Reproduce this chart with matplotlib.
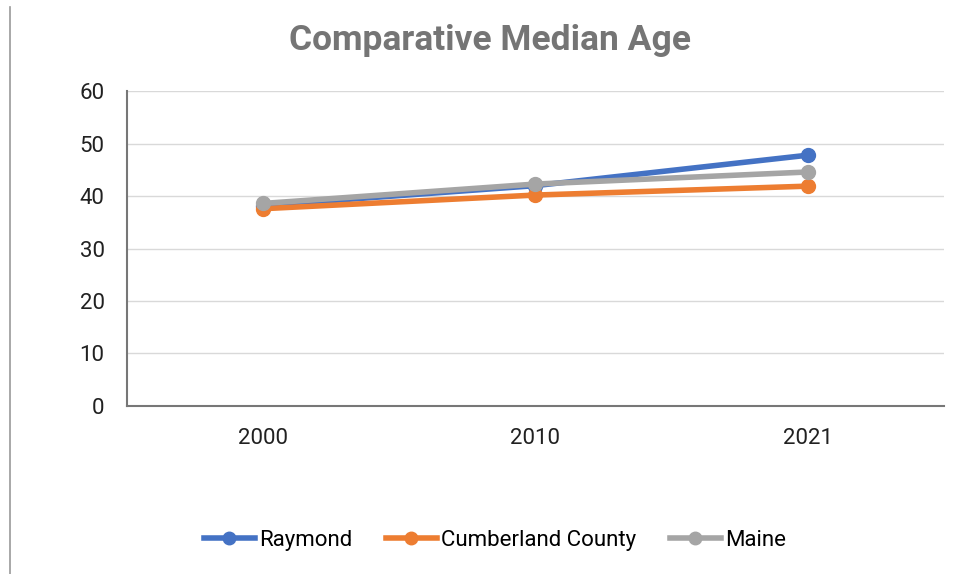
import matplotlib.pyplot as plt
from matplotlib.lines import Line2D

years = ['2000', '2010', '2021']
raymond = [38.2, 42.0, 47.8]
cumberland = [37.6, 40.2, 41.9]
maine = [38.6, 42.3, 44.6]

plt.rcParams['font.family'] = ['Roboto', 'DejaVu Sans']

fig = plt.figure(figsize=(9.61, 5.74), dpi=100)
ax = fig.add_axes([0.132, 0.293, 0.850, 0.548])

x = range(len(years))
ax.plot(x, raymond, color='#4472c4', lw=4, marker='o', ms=10, label='Raymond')
ax.plot(x, cumberland, color='#ed7d31', lw=4, marker='o', ms=10, label='Cumberland County')
ax.plot(x, maine, color='#a5a5a5', lw=4, marker='o', ms=10, label='Maine')

ax.set_xlim(-0.5, 2.5)
ax.set_ylim(0, 60)
ax.set_yticks(range(0, 61, 10))
ax.set_xticks(list(x))
ax.set_xticklabels(years)
ax.tick_params(length=0, labelsize=16, labelcolor='#212121')
ax.tick_params(axis='y', pad=16)
ax.tick_params(axis='x', pad=16)
ax.grid(axis='y', color='#d9d9d9', lw=1)
ax.set_axisbelow(True)
for s in ['top', 'right']:
    ax.spines[s].set_visible(False)
ax.spines['left'].set_color('#777777')
ax.spines['bottom'].set_color('#777777')
ax.spines['left'].set_linewidth(1.5)
ax.spines['bottom'].set_linewidth(1.5)

fig.text(0.51, 0.93, 'Comparative Median Age', ha='center', va='center',
         fontsize=25.5, fontweight='bold', color='#757575')

leg = ax.legend(loc='center', bbox_to_anchor=(0.515, 0.058), bbox_transform=fig.transFigure,
                ncol=3, frameon=False, fontsize=16, handlelength=2.3, columnspacing=1.5,
                handletextpad=0.2, markerscale=0.9)

# left border line from the screenshot
fig.add_artist(Line2D([0.0105, 0.0105], [0.0, 0.988], color='#999999', lw=1.2))

fig.savefig('out.png', dpi=100)
